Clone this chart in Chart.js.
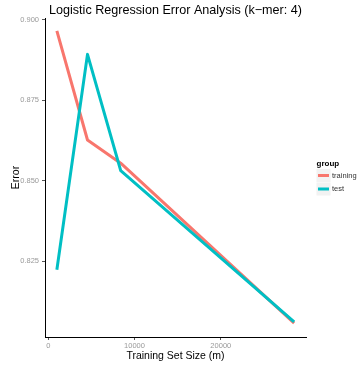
<!DOCTYPE html>
<html>
<head>
<meta charset="utf-8">
<script src="https://cdn.jsdelivr.net/npm/chart.js@4"></script>
<style>
  html, body { margin: 0; padding: 0; background: #fff; }
  #wrap { width: 359px; height: 366px; }
</style>
</head>
<body>
<div id="wrap"><canvas id="errorChart" width="359" height="366"></canvas></div>
<script>
// values
var trainingSizes = [1000, 4550, 8400, 28500];
var trainingError = [0.8966, 0.8627, 0.8555, 0.8058];
var testError = [0.8224, 0.8893, 0.8532, 0.8062];
var xTicks = [0, 10000, 20000];
var yTicks = [0.825, 0.850, 0.875, 0.900];
var groups = ['training', 'test'];
var groupColors = ['#F8766D', '#00BFC4'];

var FONT = '"Liberation Sans", Arial, Helvetica, sans-serif';

function toPoints(xs, ys) {
    return xs.map(function(x, i) { return { x: x, y: ys[i] }; });
}

// title, axis titles and legend, placed like the ggplot original
var annotations = {
    id: 'annotations',
    afterDraw: function(chart) {
        var ctx = chart.ctx;
        var area = chart.chartArea;
        var cx = (area.left + area.right) / 2;
        ctx.save();
        ctx.fillStyle = '#000';
        ctx.textAlign = 'center';
        ctx.textBaseline = 'alphabetic';
        ctx.font = '12.6px ' + FONT;
        ctx.fillText('Logistic Regression Error Analysis (k\u2212mer: 4)', cx, 14);

        ctx.font = '10.5px ' + FONT;
        ctx.fillText('Training Set Size (m)', cx, 359);

        ctx.save();
        ctx.translate(18.5, (area.top + area.bottom) / 2);
        ctx.rotate(-Math.PI / 2);
        ctx.fillText('Error', 0, 0);
        ctx.restore();

        // legend
        ctx.textAlign = 'left';
        ctx.font = 'bold 8px ' + FONT;
        ctx.fillText('group', 316.5, 166);
        ctx.font = '7.5px ' + FONT;
        ctx.textBaseline = 'middle';
        groups.forEach(function(name, i) {
            var y = 175.5 + i * 13.5;
            ctx.fillStyle = '#f2f2f2';
            ctx.fillRect(316.5, y - 6.5, 14, 13);
            ctx.strokeStyle = groupColors[i];
            ctx.lineWidth = 3;
            ctx.beginPath();
            ctx.moveTo(318, y);
            ctx.lineTo(329, y);
            ctx.stroke();
            ctx.fillStyle = '#333';
            ctx.fillText(name, 332, y);
        });
        ctx.restore();
    }
};

var ctx = document.getElementById('errorChart').getContext('2d');
var errorChart = new Chart(ctx, {
    type: 'scatter',
    data: {
        datasets: [{
            label: groups[0],
            data: toPoints(trainingSizes, trainingError),
            borderColor: groupColors[0],
            order: 2
        }, {
            label: groups[1],
            data: toPoints(trainingSizes, testError),
            borderColor: groupColors[1],
            order: 1
        }]
    },
    options: {
        responsive: false,
        animation: false,
        showLine: true,
        elements: {
            point: { radius: 0, hoverRadius: 0 },
            line: { borderWidth: 3, tension: 0, borderJoinStyle: 'round', borderCapStyle: 'butt' }
        },
        layout: { padding: { left: 0, top: 18, right: 53, bottom: 0 } },
        scales: {
            x: {
                type: 'linear',
                min: -375,
                max: 29875,
                afterBuildTicks: function(scale) {
                    scale.ticks = xTicks.map(function(v) { return { value: v }; });
                },
                afterFit: function(scale) { scale.height = 29; },
                grid: { drawOnChartArea: false, tickLength: 3, color: '#555' },
                border: { color: '#000', width: 1 },
                ticks: {
                    color: '#999',
                    font: { size: 7.5, family: FONT },
                    padding: 1,
                    maxRotation: 0,
                    autoSkip: false,
                    callback: function(v) { return String(v); }
                }
            },
            y: {
                min: 0.8015,
                max: 0.9006,
                afterBuildTicks: function(scale) {
                    scale.ticks = yTicks.map(function(v) { return { value: v }; });
                },
                afterFit: function(scale) { scale.width = 45; },
                grid: { drawOnChartArea: false, tickLength: 3, color: '#555' },
                border: { color: '#000', width: 1 },
                ticks: {
                    color: '#999',
                    font: { size: 7.5, family: FONT },
                    padding: 3,
                    autoSkip: false,
                    callback: function(v) { return v.toFixed(3); }
                }
            }
        },
        plugins: {
            legend: { display: false },
            tooltip: { enabled: false }
        }
    },
    plugins: [annotations]
});
</script>
</body>
</html>
